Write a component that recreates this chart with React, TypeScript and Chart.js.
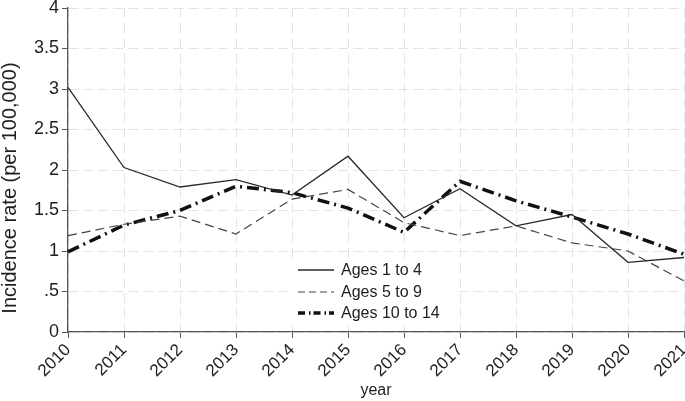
import React, { useEffect, useRef } from "react";
import { Chart, registerables } from "chart.js";

Chart.register(...registerables);

const years = ["2010", "2011", "2012", "2013", "2014", "2015", "2016", "2017", "2018", "2019", "2020", "2021"];
const ages1to4 = [3.02, 2.03, 1.79, 1.88, 1.69, 2.17, 1.41, 1.77, 1.31, 1.45, 0.86, 0.92];
const ages5to9 = [1.19, 1.33, 1.43, 1.21, 1.64, 1.76, 1.35, 1.19, 1.31, 1.1, 1.0, 0.63];
const ages10to14 = [0.99, 1.32, 1.5, 1.8, 1.72, 1.53, 1.23, 1.86, 1.62, 1.42, 1.21, 0.96];
const seriesLabels = ["Ages 1 to 4", "Ages 5 to 9", "Ages 10 to 14"];
const yTitle = "Incidence rate (per 100,000)";
const xTitle = "year";

const FONT = "'Liberation Sans', Arial, Helvetica, sans-serif";

const legendPlugin = {
  id: "insideLegend",
  afterDatasetsDraw(chart: any) {
    const { ctx, chartArea } = chart;
    const x0 = chartArea.left + 230;
    const y0 = chartArea.top + 250;
    ctx.save();
    ctx.fillStyle = "#ffffff";
    ctx.fillRect(x0 - 6, y0, 168, 68);
    const rows = [y0 + 12, y0 + 34, y0 + 55];
    chart.data.datasets.forEach((ds: any, i: number) => {
      const y = rows[i];
      ctx.beginPath();
      ctx.setLineDash(ds.legendDash || ds.borderDash || []);
      ctx.lineWidth = ds.borderWidth;
      ctx.strokeStyle = ds.borderColor;
      ctx.moveTo(x0, y);
      ctx.lineTo(x0 + 36, y);
      ctx.stroke();
      ctx.setLineDash([]);
      ctx.fillStyle = "#1e1e1e";
      ctx.font = `16px ${FONT}`;
      ctx.textBaseline = "middle";
      ctx.textAlign = "left";
      ctx.fillText(ds.label, x0 + 43, y + 1);
    });
    ctx.restore();
  },
};

const yTitlePlugin = {
  id: "yTitle",
  afterDraw(chart: any) {
    const { ctx, chartArea } = chart;
    ctx.save();
    ctx.translate(10, (chartArea.top + chartArea.bottom) / 2 + 18);
    ctx.rotate(-Math.PI / 2);
    ctx.fillStyle = "#1e1e1e";
    ctx.font = `20px ${FONT}`;
    ctx.textAlign = "center";
    ctx.textBaseline = "middle";
    ctx.fillText(yTitle, 0, 0);
    ctx.restore();
  },
};

export default function App() {
  const ref = useRef<HTMLCanvasElement>(null);

  useEffect(() => {
    if (!ref.current) return;
    const chart = new Chart(ref.current, {
      type: "line",
      data: {
        labels: years,
        datasets: [
          {
            label: seriesLabels[0],
            data: ages1to4,
            borderColor: "#2a2a2a",
            borderWidth: 1.3,
            pointRadius: 0,
            tension: 0,
          },
          {
            label: seriesLabels[1],
            data: ages5to9,
            borderColor: "#444444",
            borderWidth: 1.2,
            borderDash: [9, 5],
            legendDash: [7, 4],
            pointRadius: 0,
            tension: 0,
          } as any,
          {
            label: seriesLabels[2],
            data: ages10to14,
            borderColor: "#111111",
            borderWidth: 3.5,
            borderDash: [12, 5, 2, 5],
            legendDash: [7, 4, 1.5, 3],
            pointRadius: 0,
            tension: 0,
          } as any,
        ],
      },
      options: {
        animation: false,
        responsive: false,
        maintainAspectRatio: false,
        devicePixelRatio: 1,
        layout: { padding: { top: 8, right: 1, left: 0, bottom: 0 } },
        plugins: {
          legend: { display: false },
          tooltip: { enabled: false },
        },
        scales: {
          x: {
            type: "category",
            offset: false,
            grid: {
              color: "#e4e4e4",
              lineWidth: 1,
              tickColor: "#555",
              tickLength: 6,
              drawTicks: true,
            },
            border: { color: "#555", width: 1.3, dash: [10, 5] },
            ticks: {
              color: "#1e1e1e",
              font: { family: FONT, size: 17 },
              maxRotation: 45,
              minRotation: 45,
              autoSkip: false,
              padding: 2,
            },
            title: {
              display: true,
              text: xTitle,
              color: "#1e1e1e",
              font: { family: FONT, size: 16 },
              padding: { top: 0, bottom: 1 },
            },
            afterFit: (scale: any) => {
              scale.height = 69;
              scale.paddingLeft = 0;
              scale.paddingRight = 0;
            },
          },
          y: {
            min: 0,
            max: 4,
            grid: {
              color: "#e4e4e4",
              lineWidth: 1,
              tickColor: "#555",
              tickLength: 6,
            },
            border: { color: "#555", width: 1.3, dash: [10, 5] },
            ticks: {
              stepSize: 0.5,
              color: "#1e1e1e",
              font: { family: FONT, size: 18 },
              padding: 3,
              callback: (v: any) => {
                const n = Number(v);
                const s = String(n);
                return s.startsWith("0.") ? s.slice(1) : s;
              },
            },
            afterFit: (scale: any) => {
              scale.width = 68;
              scale.paddingTop = 0;
              scale.paddingBottom = 0;
            },
          },
        },
      },
      plugins: [legendPlugin, yTitlePlugin],
    });
    return () => chart.destroy();
  }, []);

  return (
    <div style={{ position: "fixed", left: 0, top: 0, width: 685, height: 401, background: "#fff" }}>
      <canvas ref={ref} width={685} height={401} style={{ width: 685, height: 401 }} />
    </div>
  );
}
